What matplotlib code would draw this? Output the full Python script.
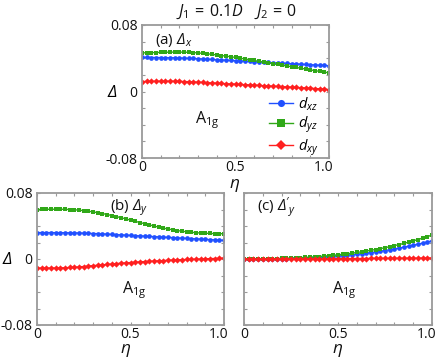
import numpy as np
import matplotlib
matplotlib.use("Agg")
import matplotlib.pyplot as plt
from matplotlib.ticker import MultipleLocator, FixedLocator, FixedFormatter
from matplotlib.transforms import ScaledTranslation

plt.rcParams['font.family'] = ['Open Sans', 'DejaVu Sans']
plt.rcParams['mathtext.fontset'] = 'custom'
plt.rcParams['mathtext.rm'] = 'Open Sans:italic'
plt.rcParams['mathtext.it'] = 'Open Sans:italic'
plt.rcParams['mathtext.sf'] = 'Open Sans'

# eta grid (step 0.025)
eta = np.linspace(0, 1, 41)

# panel (a) Delta_x
a_xz = [0.0410, 0.0410, 0.0409, 0.0409, 0.0408, 0.0407, 0.0406, 0.0405, 0.0403, 0.0401,
        0.0399, 0.0397, 0.0394, 0.0391, 0.0388, 0.0385, 0.0382, 0.0379, 0.0376, 0.0373,
        0.0370, 0.0367, 0.0364, 0.0361, 0.0358, 0.0355, 0.0352, 0.0349, 0.0346, 0.0343,
        0.0340, 0.0337, 0.0334, 0.0331, 0.0328, 0.0325, 0.0322, 0.0319, 0.0316, 0.0313, 0.0310]
a_yz = [0.0465, 0.0466, 0.0467, 0.0469, 0.0470, 0.0472, 0.0473, 0.0474, 0.0474, 0.0473,
        0.0471, 0.0468, 0.0464, 0.0459, 0.0453, 0.0447, 0.0440, 0.0433, 0.0425, 0.0418,
        0.0410, 0.0401, 0.0392, 0.0383, 0.0373, 0.0363, 0.0353, 0.0343, 0.0334, 0.0325,
        0.0316, 0.0307, 0.0298, 0.0289, 0.0280, 0.0270, 0.0260, 0.0251, 0.0242, 0.0233, 0.0225]
a_xy = [0.0120, 0.0121, 0.0122, 0.0123, 0.0124, 0.0124, 0.0124, 0.0123, 0.0122, 0.0120,
        0.0118, 0.0115, 0.0112, 0.0109, 0.0106, 0.0103, 0.0100, 0.0097, 0.0094, 0.0091,
        0.0088, 0.0085, 0.0082, 0.0079, 0.0076, 0.0073, 0.0070, 0.0067, 0.0064, 0.0061,
        0.0058, 0.0055, 0.0052, 0.0049, 0.0046, 0.0043, 0.0040, 0.0036, 0.0032, 0.0028, 0.0024]

# panel (b) Delta_y
b_xz = [0.0320, 0.0320, 0.0320, 0.0320, 0.0319, 0.0319, 0.0318, 0.0317, 0.0316, 0.0315,
        0.0313, 0.0311, 0.0309, 0.0307, 0.0304, 0.0301, 0.0298, 0.0295, 0.0292, 0.0289,
        0.0286, 0.0283, 0.0280, 0.0277, 0.0274, 0.0271, 0.0268, 0.0265, 0.0262, 0.0259,
        0.0256, 0.0253, 0.0250, 0.0247, 0.0244, 0.0241, 0.0238, 0.0235, 0.0232, 0.0229, 0.0226]
b_yz = [0.0600, 0.0601, 0.0602, 0.0603, 0.0603, 0.0603, 0.0602, 0.0600, 0.0597, 0.0592,
        0.0586, 0.0579, 0.0571, 0.0561, 0.0551, 0.0539, 0.0527, 0.0514, 0.0500, 0.0486,
        0.0472, 0.0457, 0.0442, 0.0428, 0.0414, 0.0400, 0.0387, 0.0375, 0.0364, 0.0354,
        0.0345, 0.0337, 0.0330, 0.0324, 0.0319, 0.0315, 0.0312, 0.0310, 0.0308, 0.0307, 0.0306]
b_xy = [-0.0110, -0.0110, -0.0110, -0.0110, -0.0109, -0.0108, -0.0106, -0.0103, -0.0100, -0.0096,
        -0.0091, -0.0086, -0.0081, -0.0076, -0.0071, -0.0066, -0.0061, -0.0056, -0.0051, -0.0047,
        -0.0043, -0.0039, -0.0035, -0.0031, -0.0028, -0.0025, -0.0022, -0.0019, -0.0016, -0.0013,
        -0.0010, -0.0008, -0.0006, -0.0004, -0.0002, 0.0000, 0.0002, 0.0004, 0.0006, 0.0008, 0.0010]

# panel (c) Delta'_y
c_xz = [0.0000, 0.0000, 0.0000, 0.0001, 0.0001, 0.0002, 0.0002, 0.0003, 0.0004, 0.0005,
        0.0007, 0.0008, 0.0010, 0.0012, 0.0015, 0.0018, 0.0021, 0.0024, 0.0028, 0.0032,
        0.0036, 0.0041, 0.0046, 0.0052, 0.0058, 0.0064, 0.0071, 0.0078, 0.0086, 0.0094,
        0.0103, 0.0112, 0.0122, 0.0132, 0.0143, 0.0154, 0.0166, 0.0179, 0.0192, 0.0206, 0.0220]
c_yz = [0.0000, 0.0000, 0.0001, 0.0001, 0.0002, 0.0003, 0.0004, 0.0005, 0.0007, 0.0009,
        0.0011, 0.0013, 0.0016, 0.0019, 0.0022, 0.0026, 0.0030, 0.0035, 0.0040, 0.0045,
        0.0051, 0.0057, 0.0064, 0.0071, 0.0079, 0.0087, 0.0096, 0.0105, 0.0115, 0.0126,
        0.0137, 0.0149, 0.0162, 0.0175, 0.0189, 0.0204, 0.0220, 0.0236, 0.0253, 0.0271, 0.0290]
c_xy = [0.0000, 0.0000, 0.0000, 0.0000, 0.0000, 0.0001, 0.0001, 0.0001, 0.0001, 0.0001,
        0.0002, 0.0002, 0.0002, 0.0002, 0.0003, 0.0003, 0.0003, 0.0003, 0.0004, 0.0004,
        0.0004, 0.0005, 0.0005, 0.0005, 0.0006, 0.0006, 0.0006, 0.0007, 0.0007, 0.0007,
        0.0008, 0.0008, 0.0008, 0.0009, 0.0009, 0.0010, 0.0010, 0.0010, 0.0011, 0.0011, 0.0012]

series_labels = [r'$d_{xz}$', r'$d_{yz}$', r'$d_{xy}$']
colors = ['#2050ff', '#30a818', '#ff2020']
markers = ['o', 's', 'D']

xticks = [0, 0.5, 1.0]
xticklabels = ['0', '0.5', '1.0']
yticks = [-0.08, 0, 0.08]
yticklabels = ['-0.08', '0', '0.08']

W, H = 436, 358
fig = plt.figure(figsize=(W / 100, H / 100), dpi=100)


def px_axes(x0, y0, x1, y1):
    return fig.add_axes([x0 / W, 1 - y1 / H, (x1 - x0) / W, (y1 - y0) / H])


axA = px_axes(142, 25, 329, 158)
axB = px_axes(37, 193, 224, 325)
axC = px_axes(244, 193, 432, 325)

spine_col = '#9a9a9a'
for ax, data, lab, lab_x, show_y, a1g_pos, eta_pos in [
        (axA, (a_xz, a_yz, a_xy), r'(a) $\Delta_x$', 0.07, True, (0.283, 0.286), (0.497, -0.205)),
        (axB, (b_xz, b_yz, b_xy), r'(b) $\Delta_y$', 0.39, True, (0.455, 0.265), (0.476, -0.19)),
        (axC, (c_xz, c_yz, c_xy), r"(c) $\Delta'_y$", 0.069, False, (0.468, 0.265), (0.5, -0.19))]:
    for vals, c, m, l in zip(data, colors, markers, series_labels):
        ms = 3.4 if m != 'D' else 3.2
        ax.plot(eta, vals, color=c, marker=m, ms=ms, mew=0, lw=1.0, label=l)
    ax.set_xlim(0, 1.0)
    ax.set_ylim(-0.08, 0.08)
    ax.xaxis.set_major_locator(FixedLocator(xticks))
    ax.xaxis.set_major_formatter(FixedFormatter(xticklabels))
    ax.xaxis.set_minor_locator(MultipleLocator(0.1))
    ax.yaxis.set_major_locator(FixedLocator(yticks))
    ax.yaxis.set_minor_locator(MultipleLocator(0.02))
    if show_y:
        ax.yaxis.set_major_formatter(FixedFormatter(yticklabels))
        ax.text(-0.158, 0.49, r'$\Delta$', transform=ax.transAxes, ha='center',
                va='center', fontsize=12)
    else:
        ax.set_yticklabels([])
    for s in ax.spines.values():
        s.set_color(spine_col)
        s.set_linewidth(1.3)
    ax.tick_params(which='both', direction='in', top=True, right=True,
                   color=spine_col, width=0.8, labelsize=10, labelcolor='#111111')
    ax.tick_params(which='major', length=2.5)
    ax.tick_params(which='minor', length=2.5)
    ax.tick_params(axis='x', pad=1.2)
    ax.tick_params(axis='y', pad=3.2)
    ax.text(lab_x, 0.887, lab, transform=ax.transAxes, ha='left', va='center',
            fontsize=11, color='#111111')
    ax.text(a1g_pos[0], a1g_pos[1], r'A$_{\mathsf{1g}}$', transform=ax.transAxes,
            ha='left', va='center', fontsize=11.5, color='#111111')
    ax.text(eta_pos[0], eta_pos[1], r'$\eta$', transform=ax.transAxes, ha='center',
            va='center', fontsize=12.5, color='#111111')

leg = axA.legend(loc='lower right', bbox_to_anchor=(1.0, -0.075), frameon=False,
                 fontsize=10.5, handlelength=1.65, handletextpad=0.35,
                 labelspacing=0.13, markerscale=1.5, borderaxespad=0.3)

fig.text(236 / W, 1 - 11.5 / H,
         r'$J_{\mathsf{1}}\mathsf{\,=\,0.1}D\quad J_{\mathsf{2}}\mathsf{\,=\,0}$',
         ha='center', va='center', fontsize=11.5, color='#111111')

# shift the "1.0" tick label slightly left as in the reference
fig.canvas.draw()
for ax in (axA, axB, axC):
    for t in ax.get_xticklabels():
        if t.get_text() == '1.0':
            t.set_transform(t.get_transform() + ScaledTranslation(-5 / 100, 0, fig.dpi_scale_trans))

fig.savefig('out.png', dpi=100)
